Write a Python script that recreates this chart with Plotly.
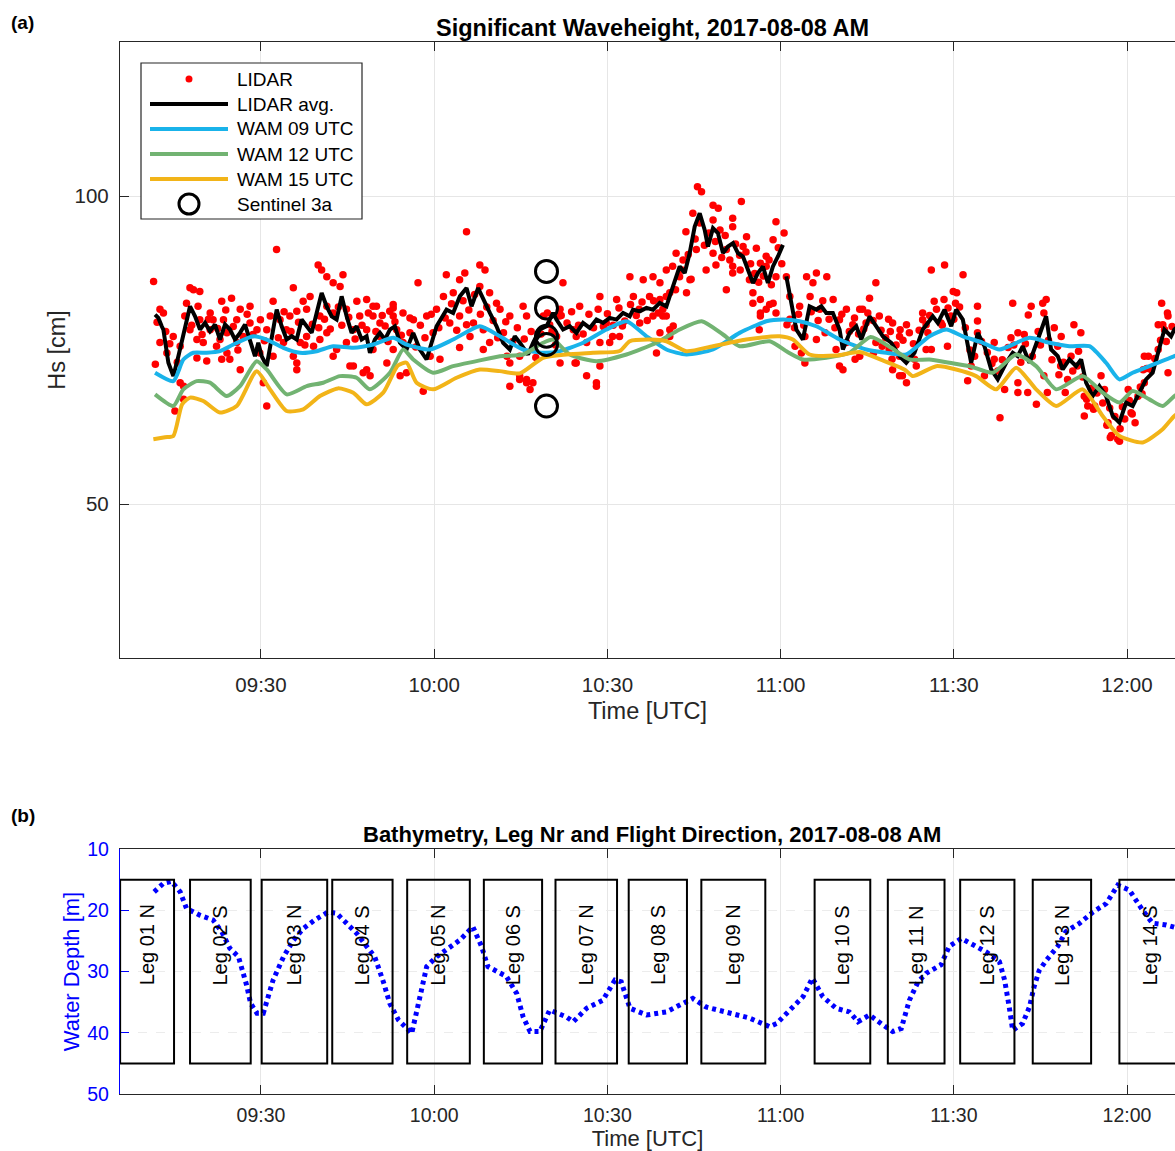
import plotly.graph_objects as go
from datetime import datetime, timedelta

BASE = datetime(2017, 8, 8, 9, 0, 0)

# ---------------- data (time in minutes after 09:00 UTC) ----------------
lidar_min = [11.4,32.7,17.7,18.3,39.9,40.5,41.4,42.5,44.2,43.7,35.6,23.2,24.9,12.5,13.1,17.1,19.1,21.2,26.4,28.1,
    32.1,37.3,38.5,37.9,41.4,46.6,48.3,50.0,52.9,52.3,11.7,15.1,16.0,16.6,31.0,26.4,20.6,18.9,45.4,48.3,
    48.9,51.8,54.1,35.6,33.9,36.2,39.1,42.5,43.1,16.0,20.0,22.3,24.1,24.6,12.5,13.7,19.4,21.7,23.5,25.8,
    28.1,33.3,35.0,36.2,40.2,42.5,44.8,47.1,49.4,50.6,52.9,54.6,29.3,26.9,31.0,34.4,37.9,41.4,46.0,48.3,
    50.6,53.5,14.8,17.7,21.2,24.1,18.9,22.9,25.8,29.8,32.1,36.8,40.2,44.8,49.4,52.9,16.6,36.2,30.4,23.2,
    46.0,47.7,55.8,51.5,49.4,52.9,19.4,
    65.6,67.9,68.8,62.1,65.3,57.2,82.3,61.6,63.3,67.9,69.6,70.8,56.4,58.7,60.4,64.4,66.8,71.4,73.1,75.4,
    76.0,78.9,81.8,85.2,88.7,91.6,93.9,96.2,97.9,99.1,94.5,97.3,54.6,55.2,58.1,59.3,61.0,64.4,66.2,68.5,
    69.6,72.0,73.1,73.1,74.8,76.0,76.6,74.8,81.2,84.1,86.4,84.6,86.4,88.1,88.7,90.4,92.1,89.8,95.6,97.9,
    99.6,68.5,80.0,77.1,65.6,62.7,59.8,64.4,
    105.6,106.3,108.3,109.2,113.2,104.8,108.3,111.7,119.2,103.6,109.5,111.7,114.1,120.6,118.7,105.4,108.3,
    110.6,113.5,115.8,117.5,101.9,103.1,107.1,108.8,111.7,113.0,116.5,117.5,119.2,110.6,114.6,115.2,116.5,
    118.7,117.5,119.2,116.3,101.3,102.5,100.2,103.7,100.8,99.1,100.2,99.1,100.8,98.5,88.1,81.7,88.7,81.8,
    84.4,76.0,77.1,74.8,72.6,84.6,90.9,92.6,95.5,100.2,99.6,101.4,100.8,104.3,111.7,115.2,116.5,118.1,116.5,
    124.5,126.2,128.0,136.5,125.6,121.0,121.6,125.1,129.1,135.4,123.3,126.8,131.4,133.7,137.1,139.4,130.2,
    132.5,134.8,141.8,140.6,142.3,144.6,145.2,122.5,123.6,124.2,126.2,129.6,130.2,130.8,131.4,133.7,136.5,
    138.8,140.6,139.4,140.6,141.8,143.5,145.2,121.1,124.2,127.7,
    134.2,138.7,140.7,132.9,136.1,137.6,139.3,141.1,169.3,173.0,174.2,176.5,177.1,178.7,180.9,182.6,183.7,
    187.0,186.2,
    146.1,148.4,151.6,149.9,150.5,146.6,148.3,150.3,154.1,160.2,163.4,165.4,166.0,162.9,165.6,170.8,172.0,
    144.6,145.5,147.8,149.5,154.1,154.1,157.0,159.9,161.1,162.2,167.4,168.6,168.0,170.3,143.2,146.1,148.9,
    153.0,152.4,155.3,157.0,158.8,161.1,162.8,161.1,164.3,158.0,165.6,166.2,168.5,169.7,171.4,172.6,173.2,
    172.6,174.4,175.5,176.1,176.7,177.3,178.4,179.6,180.7,181.9,183.0,183.0,184.2,185.4,186.0,186.5,187.1,
    185.4,180.2,182.8,187.1,
    12.0,13.5,14.2,15.5,16.8,18.0,19.8,20.9,22.5,23.9,25.2,26.0,27.6,28.6,29.9,30.6,31.6,33.0,34.0,35.2,
    36.5,37.6,38.9,40.0,41.0,42.0,43.4,44.0,45.2,46.3,47.5,48.6,49.9,51.0,52.0,53.2,54.3,
    55.8,56.8,57.6,58.4,59.5,60.8,61.9,63.0,63.9,65.0,66.0,67.0,68.0,69.1,70.2,71.0,72.4,73.6,74.4,75.6,
    76.8,77.6,78.5,79.6,80.4,81.0,
    82.0,83.0,83.8,85.0,85.8,86.8,87.6,88.4,89.3,90.0,91.0,92.0,93.0,94.0,95.0,96.0,96.9,98.0,98.8,
    101.8,102.9,104.0,104.5,105.2,106.0,106.8,107.6,108.7,109.8,110.4,111.2,112.2,112.9,114.0,114.8,115.5,
    116.2,117.0,118.0,118.4,119.6,120.2,
    121.6,122.4,123.1,124.0,125.3,126.5,127.3,128.4,129.4,130.6,131.9,132.8,133.5,134.4,135.1,136.0,137.4,
    138.2,139.0,140.0,141.2,142.0,143.0,144.0,145.8,
    147.0,148.0,149.0,150.0,151.0,152.0,152.8,153.6,154.8,155.8,156.6,157.6,158.4,159.4,160.4,161.6,162.4,
    163.6,164.6,165.0,166.4,167.0,168.2,169.0,170.6,171.6,172.3,173.8,174.8,175.8,177.0,177.9,178.8,179.2,
    180.4,181.4,182.3,183.4,184.8,185.8,186.8,187.8]
lidar_hs = [86.1,91.3,85.1,84.8,88.8,88.0,86.9,85.9,87.2,85.3,85.1,82.9,83.4,81.6,81.0,82.6,82.1,81.0,81.6,82.1,
    82.9,82.9,83.7,81.6,82.1,82.9,83.2,82.1,82.4,81.3,72.7,65.1,69.7,69.1,65.9,71.8,73.2,73.7,72.4,71.8,
    70.8,72.9,70.8,74.0,76.2,72.9,75.6,74.0,75.1,75.6,76.2,75.6,74.5,73.5,76.2,74.5,79.9,79.9,79.9,79.9,
    79.4,79.9,80.5,81.3,80.5,81.0,81.6,80.5,80.5,79.4,80.5,81.0,78.3,77.2,78.3,78.3,77.2,77.8,78.3,78.3,
    77.2,78.3,77.2,78.3,78.3,77.8,76.7,76.7,76.2,74.5,74.0,76.2,76.7,76.2,75.1,75.1,67.0,71.8,69.7,73.5,
    72.4,71.3,80.2,78.9,82.1,81.8,84.5,
    94.2,88.8,88.0,87.2,87.5,85.9,85.9,83.7,84.3,85.3,84.3,82.6,79.9,80.5,81.6,80.5,79.4,81.6,80.5,82.1,
    80.5,80.5,81.6,82.1,83.7,83.2,86.9,86.4,86.9,85.9,83.7,83.7,76.2,71.3,68.3,74.0,73.5,75.4,77.2,78.3,
    76.2,77.8,72.9,69.1,70.8,69.7,68.6,74.0,77.2,78.3,76.2,72.9,70.8,69.7,72.4,76.2,77.2,79.4,79.4,80.5,
    81.6,75.1,79.1,75.1,79.1,79.4,77.8,86.4,
    101.5,100.7,98.5,98.0,99.1,97.2,96.1,96.4,95.8,94.2,94.5,95.0,93.4,94.0,92.9,91.3,90.7,
    91.3,91.8,91.5,90.2,90.7,89.6,88.0,88.8,88.6,88.0,89.1,88.6,86.9,84.8,86.4,84.3,83.2,
    82.6,81.6,81.0,78.3,88.6,86.9,88.0,84.3,84.3,83.2,80.5,77.8,78.3,74.5,69.1,80.5,76.2,72.9,
    72.9,70.2,69.7,70.2,74.0,77.2,77.2,78.9,81.6,83.7,80.5,78.9,77.2,86.4,87.5,82.6,81.0,82.4,80.5,
    86.9,87.5,86.9,85.9,85.9,86.9,83.7,83.7,83.2,83.4,82.1,81.6,81.6,81.6,80.5,79.4,79.9,
    79.1,79.4,79.1,77.2,77.8,81.0,79.1,75.6,74.5,72.9,76.7,75.1,72.4,71.8,76.2,74.0,76.2,
    75.1,74.0,71.8,70.8,69.7,72.4,75.1,79.1,77.2,77.8,
    81.6,80.0,78.3,73.5,74.5,75.6,73.5,70.8,68.1,67.0,65.4,62.8,60.8,60.2,64.6,67.9,74.0,
    81.0,79.1,
    88.0,88.8,87.2,84.5,84.3,82.9,83.2,82.6,82.1,82.6,82.1,82.6,83.2,80.7,81.0,79.1,77.8,
    79.9,77.8,79.4,80.5,79.7,77.8,76.2,77.0,77.8,77.5,78.6,77.2,75.6,74.0,73.5,75.1,75.6,
    72.4,70.0,70.8,73.5,68.6,68.1,68.1,69.7,66.2,64.0,70.8,68.1,72.4,70.2,72.4,67.5,65.9,
    64.3,65.9,70.8,68.6,63.2,61.1,60.5,63.8,64.8,67.5,69.7,74.0,71.8,75.1,82.6,78.3,80.5,
    79.1,68.6,71.8,71.3,
    79.5,78.0,76.0,73.0,80.5,79.0,77.5,80.0,78.5,81.5,78.8,75.0,80.8,77.5,79.9,76.5,80.5,77.0,81.2,78.0,
    79.5,75.8,79.2,78.6,80.0,78.4,82.0,79.0,80.3,76.8,79.0,81.0,78.0,80.6,76.4,79.6,77.4,
    77.8,75.5,79.0,77.0,80.8,78.6,80.2,82.5,78.2,83.0,81.5,84.0,80.8,82.0,79.8,77.0,79.6,76.4,78.6,76.8,
    78.0,73.8,77.6,81.0,78.0,75.8,
    80.6,79.4,81.2,79.0,77.6,80.8,78.6,81.6,78.8,80.9,79.0,81.8,79.7,82.4,80.6,82.8,79.8,83.0,81.0,
    84.8,88.0,90.5,86.5,93.0,95.6,92.0,94.0,92.6,90.0,93.6,89.6,92.2,90.4,90.9,89.0,87.4,
    86.0,87.0,89.6,85.6,91.6,89.0,
    80.0,78.6,80.8,79.0,81.2,79.8,83.0,80.0,78.6,80.8,78.0,80.2,77.6,78.4,81.0,79.8,78.2,
    77.0,78.0,75.8,76.6,73.8,76.0,78.2,80.6,
    81.6,79.0,81.8,80.0,82.0,78.6,75.0,74.0,76.4,74.6,72.8,71.6,73.4,75.4,75.8,73.0,76.0,
    74.0,78.0,75.8,76.6,73.4,71.0,73.0,71.6,74.8,70.6,68.8,68.0,66.4,65.6,64.2,62.2,65.8,
    66.8,63.2,69.0,72.0,73.6,76.6,76.4,78.8]

avg_min = [11.65,12.22,12.81,13.09,13.96,14.82,15.69,16.55,17.71,18.58,19.44,20.31,21.17,22.04,22.90,23.77,24.63,
    25.50,26.37,27.23,28.10,28.96,29.53,30.12,30.99,31.85,32.72,33.58,34.45,35.31,36.18,37.04,37.91,38.78,
    39.64,40.51,41.37,42.24,43.10,43.97,44.83,45.70,46.56,47.43,48.29,48.87,49.73,50.60,51.46,52.33,53.19,
    54.06,55.22,56.37,57.52,58.68,60.41,62.14,63.28,64.44,65.60,66.47,67.61,68.48,69.64,70.80,71.94,73.10,
    73.96,74.83,76.26,77.13,78.29,79.45,80.59,81.18,82.32,83.48,84.64,85.78,86.94,88.10,89.25,90.40,91.56,
    92.71,93.87,94.44,95.60,96.76,97.90,99.06,100.22,101.36,102.52,103.39,104.25,105.12,105.99,106.85,107.42,
    108.29,109.15,110.02,110.88,111.75,112.61,113.48,114.34,115.21,116.07,116.94,117.80,118.67,119.54,120.40,
    None,
    120.99,121.85,122.72,123.86,125.02,126.18,127.05,127.91,129.05,130.21,130.79,131.95,133.11,133.97,135.41,
    136.57,137.71,139.16,140.60,141.76,143.19,144.63,146.36,147.23,148.39,149.55,150.41,151.56,152.42,153.01,
    154.15,155.31,156.47,157.61,159.07,160.21,161.07,161.94,163.10,163.96,165.12,165.99,166.85,168.00,168.86,
    170.02,171.18,172.05,172.91,174.05,175.21,176.37,177.52,178.68,179.84,180.98,182.14,183.30,184.44,185.60,
    186.47,187.63,188.20,189.07]
avg_hs = [80.74,80.21,78.85,78.32,72.93,70.76,74.00,77.78,82.09,80.47,78.32,79.40,78.04,79.13,76.70,79.13,78.32,
    76.70,77.78,79.13,76.70,74.00,76.17,74.00,72.38,77.23,81.55,78.85,76.70,77.23,76.70,79.94,78.85,77.78,
    81.02,84.26,82.09,80.47,79.94,83.71,80.47,77.78,78.85,76.70,77.23,74.55,76.70,77.78,76.70,78.32,78.85,
    76.17,75.08,77.78,75.08,73.46,78.85,81.55,81.02,83.71,85.06,82.09,85.06,83.17,81.02,78.85,76.17,75.08,
    77.23,76.17,74.27,76.17,78.32,78.85,81.02,79.94,78.32,78.85,77.78,79.40,78.59,79.94,79.40,80.21,79.94,
    81.02,80.47,81.55,81.28,81.83,81.55,82.64,82.09,85.32,88.56,87.49,90.73,95.03,97.20,94.50,91.80,
    94.77,93.96,90.73,91.80,92.35,90.73,90.18,88.03,85.87,87.49,88.56,85.87,88.56,90.18,92.07,
    None,
    86.94,82.64,78.32,76.70,82.09,81.55,82.09,81.02,81.02,78.32,75.08,77.78,78.85,76.70,80.47,
    78.85,77.23,76.17,74.00,72.93,74.55,78.32,80.47,79.40,81.55,78.85,81.55,79.94,76.17,72.93,
    77.78,75.62,71.84,70.23,72.93,74.55,74.00,75.62,72.93,75.08,78.32,80.47,75.08,74.00,71.84,
    73.46,72.38,73.46,69.69,67.52,69.14,67.52,64.29,63.22,66.46,65.91,68.07,70.23,71.31,75.08,
    78.32,77.23,78.32,79.10]

wam09_min = [11.65,14.82,16.55,18.28,20.60,22.90,25.21,28.67,30.99,33.86,36.75,39.64,42.51,45.98,49.44,52.90,
    55.22,59.25,63.28,67.90,71.37,75.40,78.86,81.75,85.78,89.83,93.30,96.76,100.22,103.68,108.29,112.90,
    117.52,120.40,123.29,126.18,130.21,134.83,138.30,141.76,145.79,148.68,151.56,155.02,157.91,163.10,
    166.56,170.02,173.48,176.37,178.68,180.98,183.87,188.20,189.93]
wam09_hs = [71.31,69.95,73.46,74.55,74.55,74.81,75.89,77.23,76.70,75.36,74.55,74.81,75.62,75.36,75.89,76.97,
    75.89,75.08,76.70,78.85,77.23,75.08,74.55,74.81,76.17,78.32,79.66,77.23,75.08,74.27,75.08,77.78,
    79.66,79.94,79.66,78.85,76.70,75.08,74.55,74.27,77.23,78.32,77.23,76.17,75.08,76.97,
    76.17,75.62,75.62,72.93,70.23,71.31,72.38,74.00,74.76]

wam12_min = [11.65,14.82,16.55,18.87,21.17,24.06,26.37,29.26,30.99,34.45,37.91,40.78,43.67,46.56,48.87,52.33,
    54.63,56.37,59.82,63.28,67.33,71.37,75.40,78.86,80.59,83.48,88.10,93.30,98.49,102.52,106.33,110.02,
    112.90,118.10,121.21,123.86,127.91,131.95,135.58,139.16,142.33,145.79,149.25,152.71,156.75,160.80,
    164.26,167.73,172.32,175.78,178.68,180.98,183.87,186.17,188.20,189.93]
wam12_hs = [67.80,65.91,68.61,69.95,69.69,67.52,69.14,73.19,71.84,67.80,69.14,69.69,70.76,70.50,68.61,71.31,
    75.08,73.46,71.31,72.38,73.19,74.00,74.27,76.17,76.70,74.27,73.19,74.27,76.17,78.32,79.66,77.51,
    75.62,76.42,74.68,73.46,73.74,74.55,77.10,75.36,73.46,73.46,72.93,72.38,71.31,74.27,
    72.38,68.61,70.76,68.07,66.46,68.33,66.99,65.91,67.52,68.60]

wam15_min = [11.36,13.38,14.82,16.33,17.71,20.01,22.90,25.79,29.26,31.56,34.45,37.32,40.21,43.33,45.98,48.29,
    51.17,53.71,55.22,56.95,59.82,63.87,67.90,71.37,74.83,78.86,82.91,87.51,92.14,93.87,97.33,100.22,
    103.68,108.29,114.06,119.83,122.13,125.02,129.64,133.66,137.71,141.50,142.90,146.95,150.41,153.87,
    157.34,160.80,164.26,167.73,172.32,175.78,178.68,182.72,186.17,188.20,189.93]
wam15_hs = [60.52,60.84,61.05,66.18,67.27,66.72,64.84,65.91,71.57,68.61,65.10,65.37,67.52,68.77,68.07,66.18,
    68.07,72.49,72.93,69.69,68.61,70.50,71.84,71.57,71.20,73.74,74.27,74.55,74.84,76.42,76.70,76.42,
    74.81,75.62,76.70,77.23,76.70,74.27,74.11,74.68,73.30,71.80,70.76,72.38,71.84,70.76,
    68.61,72.12,68.61,65.91,68.61,64.29,61.05,59.98,62.14,64.29,65.40]

sentinel_min = [79.45, 79.45, 79.45, 79.45, 79.45]
sentinel_hs = [87.75, 81.83, 77.23, 75.89, 65.91]

bathy_min = [11.5,13.1,14.5,16.0,17.1,19.4,21.7,23.2,24.6,26.1,27.5,28.2,29.3,30.4,31.0,32.1,33.9,35.6,37.3,
    39.3,41.6,43.1,44.8,46.6,48.3,49.7,51.2,52.3,53.8,56.1,56.9,57.8,58.7,60.4,62.1,64.4,66.7,68.2,69.3,
    72.5,74.3,75.4,76.6,78.3,80.0,82.9,84.1,86.4,89.2,91.3,92.4,93.9,96.8,100.2,103.1,104.8,107.1,111.2,
    114.6,118.1,119.3,121.6,123.9,125.5,127.3,129.6,131.9,133.4,135.4,137.7,139.4,140.9,142.3,143.8,145.2,
    147.8,149.2,151.3,153.3,155.6,157.9,158.8,159.6,160.2,161.9,163.1,163.9,164.8,166.0,168.0,169.4,171.8,
    174.1,176.4,178.4,180.4,182.7,184.4,186.8,189.0]
bathy_depth = [17.0,15.6,15.3,17.0,19.7,20.8,21.6,23.5,26.2,27.6,32.2,35.2,36.8,36.8,34.9,31.4,27.6,24.9,23.0,
    21.6,20.3,20.5,22.1,23.8,25.9,27.6,31.7,35.2,37.9,40.1,36.8,33.0,29.2,27.6,26.5,24.9,22.7,25.9,29.2,
    30.8,33.6,37.4,39.8,39.8,36.3,37.4,38.2,36.0,34.7,31.4,31.7,36.0,37.1,36.6,35.2,34.4,35.8,36.8,
    37.6,39.0,38.5,36.3,34.1,31.1,34.1,36.0,36.6,38.2,37.1,38.7,39.8,39.3,34.7,31.7,30.3,
    28.9,25.9,24.6,25.7,26.8,28.4,31.4,35.8,39.6,38.5,35.8,32.5,29.8,28.2,25.9,23.5,22.1,
    20.3,18.9,15.9,16.7,20.0,22.1,22.4,23.0]

leg_labels = ["Leg 01 N", "Leg 02 S", "Leg 03 N", "Leg 04 S", "Leg 05 N", "Leg 06 S", "Leg 07 N",
              "Leg 08 S", "Leg 09 N", "Leg 10 S", "Leg 11 N", "Leg 12 S", "Leg 13 N", "Leg 14 S"]
leg_start = [5.60, 17.71, 30.12, 42.34, 55.32, 68.60, 81.01, 93.69, 106.27, 125.89, 138.57, 151.10, 163.67, 178.68]
leg_end = [14.94, 28.22, 41.47, 52.79, 66.17, 78.69, 91.67, 103.78, 117.35, 135.53, 148.39, 160.50, 173.78, 189.40]
leg_depth_top, leg_depth_bottom, leg_text_depth = 15, 45, 25.7

x_start_min, x_end_min = 5.58, 188.31
hs_range = [25, 125]
hs_ticks = [50, 100]
depth_range = [50, 10]
depth_ticks = [10, 20, 30, 40, 50]


def t(mins):
    return [BASE + timedelta(minutes=m) if m is not None else None for m in mins]


def t1(m):
    return BASE + timedelta(minutes=m)


W, H = 1175, 1151
FONT = "Liberation Sans, Arial, Helvetica, sans-serif"
AX = "#262626"
RED, BLUE, GREEN, ORANGE = "#ff0000", "#19b3ea", "#72b372", "#f2b418"
DBLUE = "#0000ff"


def px(x):
    return x / W


def py(y):
    return 1 - y / H


fig = go.Figure()

fig.add_trace(go.Scatter(x=t(lidar_min), y=lidar_hs, mode="markers", name="LIDAR",
                         marker=dict(color=RED, size=7.5, line=dict(width=0)), xaxis="x", yaxis="y"))
fig.add_trace(go.Scatter(x=t(avg_min), y=avg_hs, mode="lines", name="LIDAR avg.",
                         line=dict(color="black", width=4), xaxis="x", yaxis="y"))
fig.add_trace(go.Scatter(x=t(wam09_min), y=wam09_hs, mode="lines", name="WAM 09 UTC",
                         line=dict(color=BLUE, width=4, shape="spline", smoothing=0.6), xaxis="x", yaxis="y"))
fig.add_trace(go.Scatter(x=t(wam12_min), y=wam12_hs, mode="lines", name="WAM 12 UTC",
                         line=dict(color=GREEN, width=4, shape="spline", smoothing=0.6), xaxis="x", yaxis="y"))
fig.add_trace(go.Scatter(x=t(wam15_min), y=wam15_hs, mode="lines", name="WAM 15 UTC",
                         line=dict(color=ORANGE, width=4, shape="spline", smoothing=0.6), xaxis="x", yaxis="y"))
fig.add_trace(go.Scatter(x=t(sentinel_min), y=sentinel_hs, mode="markers", name="Sentinel 3a",
                         marker=dict(symbol="circle-open", size=22, color="black", line=dict(width=3, color="black")),
                         xaxis="x", yaxis="y"))

fig.add_trace(go.Scatter(x=t(bathy_min), y=bathy_depth, mode="lines", name="Water depth",
                         line=dict(color=DBLUE, width=5, dash="4px,4px"), xaxis="x2", yaxis="y2"))

shapes = []
annotations = []
for lab, s, e in zip(leg_labels, leg_start, leg_end):
    shapes.append(dict(type="rect", xref="x2", yref="y2", x0=t1(s), x1=t1(e),
                       y0=leg_depth_top, y1=leg_depth_bottom, line=dict(color="black", width=2),
                       fillcolor="rgba(0,0,0,0)", layer="above"))
    annotations.append(dict(xref="x2", yref="y2", x=t1((s + e) / 2), y=leg_text_depth, text=lab,
                            textangle=-90, showarrow=False, font=dict(size=20, color="black", family=FONT)))

# legend (drawn manually to match the long line samples of the original)
shapes.append(dict(type="rect", xref="paper", yref="paper", x0=px(141), x1=px(362), y0=py(219), y1=py(63),
                   line=dict(color=AX, width=1.2), fillcolor="white", layer="above"))
leg_items = [("LIDAR", 79), ("LIDAR avg.", 104), ("WAM 09 UTC", 129), ("WAM 12 UTC", 154),
             ("WAM 15 UTC", 179), ("Sentinel 3a", 204)]
shapes.append(dict(type="circle", xref="paper", yref="paper", x0=px(185.5), x1=px(192.5), y0=py(82.5), y1=py(75.5),
                   fillcolor=RED, line=dict(width=0), layer="above"))
for col, yy in [("black", 104), (BLUE, 129), (GREEN, 154), (ORANGE, 179)]:
    shapes.append(dict(type="line", xref="paper", yref="paper", x0=px(150), x1=px(228), y0=py(yy), y1=py(yy),
                       line=dict(color=col, width=4), layer="above"))
shapes.append(dict(type="circle", xref="paper", yref="paper", x0=px(179), x1=px(199), y0=py(214), y1=py(194),
                   line=dict(color="black", width=3), fillcolor="rgba(0,0,0,0)", layer="above"))
for txt, yy in leg_items:
    annotations.append(dict(xref="paper", yref="paper", x=px(235), y=py(yy), xanchor="left", yanchor="middle",
                            text=txt, showarrow=False, font=dict(size=19, color="black", family=FONT)))

# titles and panel letters
annotations += [
    dict(xref="paper", yref="paper", x=px(652), y=py(28), text="<b>Significant Waveheight, 2017-08-08 AM</b>",
         showarrow=False, xanchor="center", yanchor="middle", font=dict(size=23.5, color="black", family=FONT)),
    dict(xref="paper", yref="paper", x=px(652), y=py(834),
         text="<b>Bathymetry, Leg Nr and Flight Direction, 2017-08-08 AM</b>",
         showarrow=False, xanchor="center", yanchor="middle", font=dict(size=22, color="black", family=FONT)),
    dict(xref="paper", yref="paper", x=px(9), y=py(22), text="<b>(a)</b>", showarrow=False,
         xanchor="left", yanchor="middle", font=dict(size=19, color="black", family=FONT)),
    dict(xref="paper", yref="paper", x=px(9), y=py(815), text="<b>(b)</b>", showarrow=False,
         xanchor="left", yanchor="middle", font=dict(size=19, color="black", family=FONT)),
]

xcommon = dict(type="date", range=[t1(x_start_min), t1(x_end_min)], tickformat="%H:%M",
               dtick=30 * 60 * 1000, tick0=t1(30), showgrid=True, gridcolor="#e6e6e6", gridwidth=1,
               showline=True, linecolor=AX, linewidth=1.3, mirror="ticks", ticks="inside", ticklen=9,
               tickwidth=1.3, tickcolor=AX, zeroline=False, automargin=False)

fig.update_layout(
    width=W, height=H, margin=dict(l=0, r=0, t=0, b=0, autoexpand=False), paper_bgcolor="white",
    plot_bgcolor="white", showlegend=False, font=dict(family=FONT, color="black"),
    xaxis=dict(xcommon, domain=[px(120), 1.0], anchor="y", ticklabelstandoff=8,
               tickfont=dict(size=20.5, color=AX, family=FONT),
               title=dict(text="Time [UTC]", font=dict(size=23.5, color=AX, family=FONT), standoff=7)),
    yaxis=dict(domain=[py(658), py(42)], range=hs_range, tickvals=hs_ticks, anchor="x", showgrid=True,
               gridcolor="#e6e6e6", showline=True, linecolor=AX, linewidth=1.3, ticks="inside", ticklen=9,
               tickwidth=1.3, tickcolor=AX, tickfont=dict(size=20.5, color=AX, family=FONT), zeroline=False,
               ticklabelstandoff=6, automargin=False,
               title=dict(text="Hs [cm]", font=dict(size=23.5, color=AX, family=FONT), standoff=2)),
    xaxis2=dict(xcommon, domain=[px(120), 1.0], anchor="y2", ticklabelstandoff=3,
                tickfont=dict(size=19.5, color=AX, family=FONT),
                title=dict(text="Time [UTC]", font=dict(size=22, color=AX, family=FONT), standoff=3)),
    yaxis2=dict(domain=[py(1094), py(849)], range=depth_range, tickvals=depth_ticks, anchor="x2",
                showgrid=True, gridcolor="#ececec", griddash="dash", showline=True, linecolor=DBLUE,
                linewidth=1.3, ticks="inside", ticklen=9, tickwidth=1.3, tickcolor=DBLUE,
                tickfont=dict(size=19.5, color=DBLUE, family=FONT), zeroline=False, ticklabelstandoff=6,
                automargin=False,
                title=dict(text="Water Depth [m]", font=dict(size=22, color=DBLUE, family=FONT), standoff=1)),
    shapes=shapes, annotations=annotations,
)

# remove the browser's default body margin so the figure fills the 1175x1151 window exactly
fig.write_html("out.html", config={"displayModeBar": False},
               post_script="document.body.style.margin='0px';")
